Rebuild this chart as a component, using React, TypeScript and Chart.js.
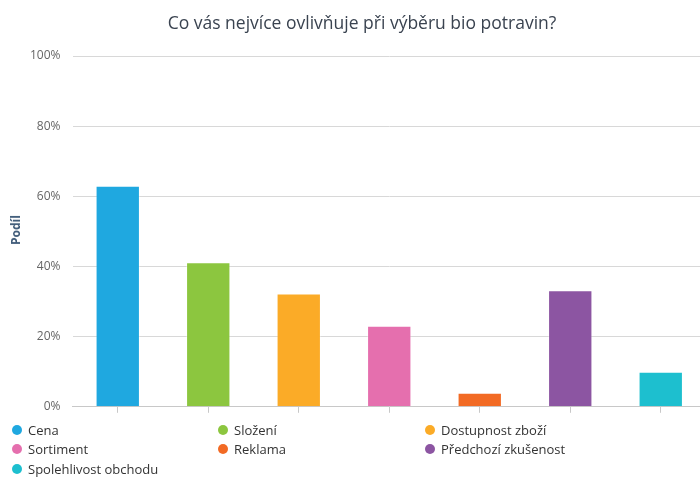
import React, { useEffect, useRef } from "react";
import { Chart, registerables } from "chart.js";

Chart.register(...registerables);

const TITLE = "Co vás nejvíce ovlivňuje při výběru bio potravin?";
const Y_TITLE = "Podíl";
const categories = [
  "Cena",
  "Složení",
  "Dostupnost zboží",
  "Sortiment",
  "Reklama",
  "Předchozí zkušenost",
  "Spolehlivost obchodu",
];
const values = [63, 41.2, 32.3, 23.1, 4, 33.2, 10];
const colors = ["#1fa8e0", "#8cc63f", "#fbab27", "#e56fae", "#f26a24", "#8c55a2", "#1dbfcf"];
const yTickValues = [0, 20, 40, 60, 80, 100];

const FONT = "'Open Sans', sans-serif";

export default function App() {
  const ref = useRef<HTMLCanvasElement | null>(null);

  useEffect(() => {
    document.body.style.margin = "0";
    if (!ref.current) return;
    const chart = new Chart(ref.current, {
      type: "bar",
      data: {
        labels: categories,
        datasets: [
          {
            data: values,
            backgroundColor: colors,
            borderColor: "rgba(255,255,255,0.35)",
            borderWidth: 1,
            categoryPercentage: 1,
            barPercentage: 0.49,
          },
        ],
      },
      options: {
        animation: false,
        responsive: true,
        maintainAspectRatio: false,
        layout: { padding: { left: 18, right: 0, top: 0, bottom: 0 } },
        plugins: {
          legend: { display: false },
          tooltip: { enabled: false },
          title: {
            display: true,
            text: TITLE,
            color: "#3a4350",
            font: { family: FONT, size: 17.5, weight: "normal" },
            padding: { top: 14, bottom: 21 },
          },
        },
        scales: {
          x: {
            grid: {
              display: true,
              drawOnChartArea: false,
              drawTicks: true,
              tickLength: 6,
              offset: false,
              color: "#c8c8c8",
            },
            border: { display: true, color: "#c8c8c8" },
            ticks: { display: false },
          },
          y: {
            min: 0,
            max: 100,
            afterBuildTicks: (scale: any) => {
              scale.ticks = yTickValues.map((v) => ({ value: v }));
            },
            grid: { color: "#d8d8d8", drawTicks: false },
            border: { display: false },
            ticks: {
              color: "#666666",
              font: { family: FONT, size: 12 },
              padding: 12,
              callback: (v: any) => v + "%",
            },
          },
        },
      },
    });
    return () => chart.destroy();
  }, []);

  const rows: number[][] = [];
  for (let i = 0; i < categories.length; i += 3) {
    const r: number[] = [];
    for (let j = i; j < Math.min(i + 3, categories.length); j++) r.push(j);
    rows.push(r);
  }

  return (
    <div
      style={{
        position: "absolute",
        left: 0,
        top: 0,
        width: 700,
        height: 478,
        overflow: "hidden",
        background: "#fff",
        fontFamily: FONT,
      }}
    >
      <div style={{ position: "absolute", left: 0, top: 0, width: 706, height: 426 }}>
        <canvas ref={ref} />
      </div>
      <div
        style={{
          position: "absolute",
          left: 16,
          top: 230,
          transform: "translate(-50%, -50%) rotate(-90deg)",
          fontSize: 12,
          fontWeight: "bold",
          color: "#3e5a78",
          whiteSpace: "nowrap",
          lineHeight: "14px",
        }}
      >
        {Y_TITLE}
      </div>
      <div style={{ position: "absolute", left: 12, top: 420, width: 690 }}>
        {rows.map((row, ri) => (
          <div key={ri} style={{ display: "flex", height: 19.5, alignItems: "center" }}>
            {row.map((i, ci) => (
              <div
                key={ci}
                style={{
                  width: ci === 0 ? 206 : 207,
                  display: "flex",
                  alignItems: "center",
                  fontSize: 13,
                  color: "#333333",
                }}
              >
                <span
                  style={{
                    display: "inline-block",
                    width: 10,
                    height: 10,
                    borderRadius: "50%",
                    background: colors[i],
                    marginRight: 6,
                  }}
                />
                <span>{categories[i]}</span>
              </div>
            ))}
          </div>
        ))}
      </div>
    </div>
  );
}
